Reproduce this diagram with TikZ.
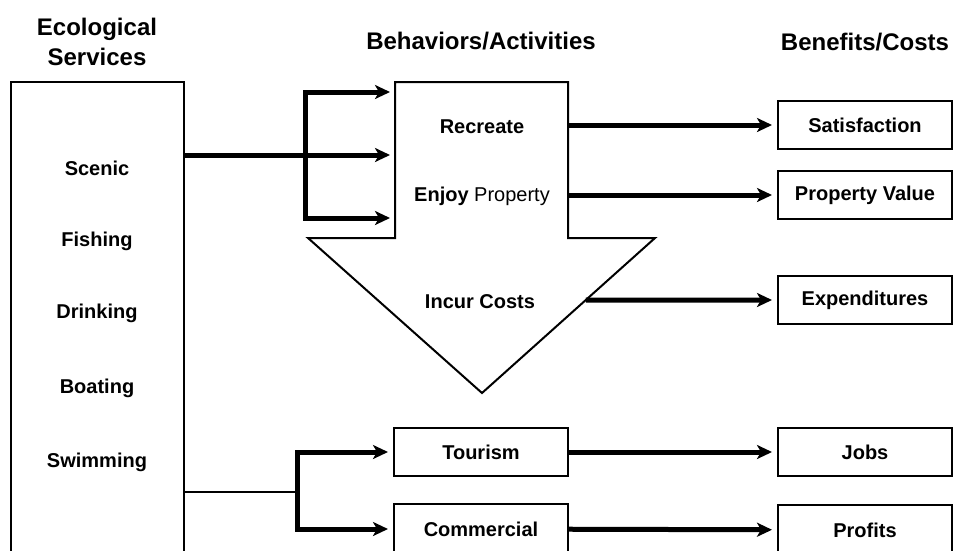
\documentclass[tikz,border=0pt]{standalone}
\usepackage{fontspec}
\setmainfont{Liberation Sans}
\usetikzlibrary{arrows.meta,calc}
\begin{document}
\begin{tikzpicture}[x=1pt,y=-1pt,
  lab/.style={font=\fontsize{20}{24}\selectfont\bfseries},
  ttl/.style={font=\fontsize{24}{30}\selectfont\bfseries, align=center},
  rbox/.style={draw, line width=2pt, minimum width=174pt, minimum height=48pt, inner sep=0pt, lab},
  thinline/.style={line width=2.5pt},
  tipshape/.style={},
  arr/.style={line width=5pt, -{Stealth[length=15pt,width=14pt,inset=4pt]}, shorten >=5pt},
  brk/.style={line width=5pt, {Stealth[length=15pt,width=14pt,inset=4pt]}-{Stealth[length=15pt,width=14pt,inset=4pt]}, shorten >=5pt, shorten <=5pt, line join=miter},
]
\clip (0,0) rectangle (958,550);
\fill[white] (0,0) rectangle (958,550);

% titles
\node[ttl] (t1) at (97,42) {Ecological\\Services};
\node[ttl] (t2) at (481,41) {Behaviors/Activities};
\node[ttl] (t3) at (865,42) {Benefits/Costs};

% left box
\node[draw, line width=2pt, minimum width=173pt, minimum height=480pt, anchor=north west, inner sep=0pt] (es) at (10,81) {};
\node[lab] (sc) at (97,168) {Scenic};
\node[lab] (fi) at (97,241) {Fishing};
\node[lab] (dr) at (97,313) {Drinking};
\node[lab] (bo) at (97,388) {Boating};
\node[lab] (sw) at (97,462) {Swimming};

% big down arrow
\coordinate (sL) at (395,82);
\coordinate (sR) at (568,82);
\coordinate (shL) at (395,238);
\coordinate (shR) at (568,238);
\coordinate (wL) at (308,238);
\coordinate (wR) at (655,238);
\coordinate (tip) at (482,393);
\draw[line width=2pt, line join=miter] (sL) -- (sR) -- (shR) -- (wR) -- (tip) -- (wL) -- (shL) -- cycle;
\node[lab] (rec) at (482,127) {Recreate};
\node[lab] (enj) at (482,196) {Enjoy {\mdseries Property}};
\node[lab] (inc) at (480,302) {Incur Costs};

% right boxes
\node[rbox] (sat) at (865,125) {Satisfaction};
\node[rbox] (pv) at (865,195) {Property Value};
\node[rbox] (exp) at (865,300) {Expenditures};
\node[rbox] (jobs) at (865,452) {Jobs};
\node[rbox, minimum height=50pt] (prof) at (865,530) {Profits};

% lower middle boxes
\node[rbox] (tour) at (481,452) {Tourism};
\node[rbox, minimum height=50pt] (comm) at (481,529) {Commercial};

% upper connectors
\coordinate (mainIn) at (305,155);
\coordinate (bk1) at (305,92);
\coordinate (bk2) at (305,218);
\draw[arr] (es.east |- mainIn) -- (sL |- mainIn);
\draw[brk] (sL |- bk1) -- (bk1) -- (bk2) -- (sL |- bk2);

\draw[arr] (sR |- sat) -- (sat);
\draw[arr] (sR |- pv) -- (pv);
\draw[arr] (intersection of wR--tip and exp.west--exp.east) -- (exp);

% lower connectors
\coordinate (lj) at (297,492);
\draw[thinline] (es.east |- lj) -- (lj);
\draw[brk] (tour) -- (lj |- tour) -- (lj |- comm) -- (comm);
\draw[arr] (tour) -- (jobs);
\draw[arr] (comm) -- (prof);
\end{tikzpicture}
\end{document}
